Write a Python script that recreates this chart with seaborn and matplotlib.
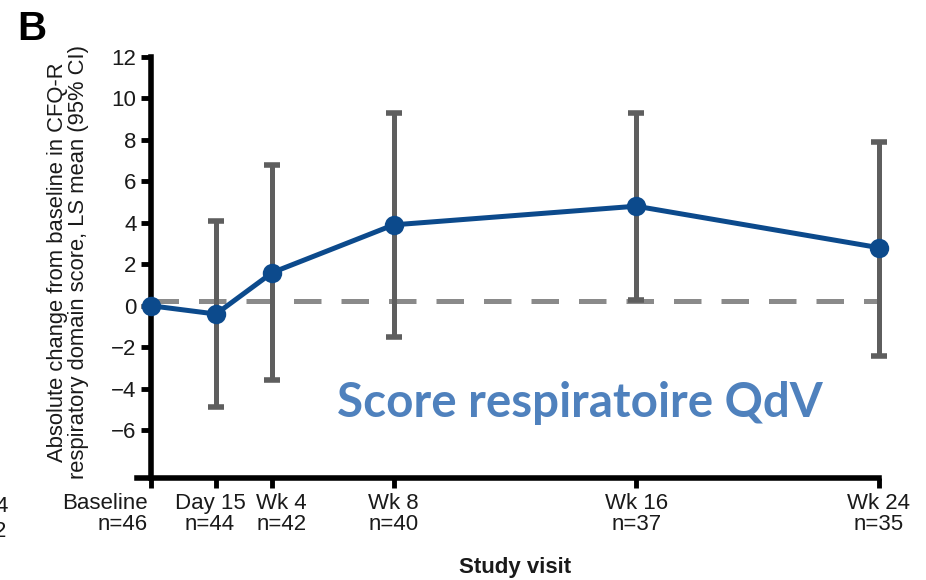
import matplotlib
matplotlib.use("Agg")
import matplotlib.pyplot as plt
import matplotlib.transforms as mtransforms
import numpy as np
import pandas as pd
import seaborn as sns

# Study visits, time since baseline (weeks) and patients analysed
visits = ["Baseline", "Day 15", "Wk 4", "Wk 8", "Wk 16", "Wk 24"]
n_patients = [46, 44, 42, 40, 37, 35]
weeks = [0, 15 / 7, 4, 8, 16, 24]

# Absolute change from baseline in CFQ-R respiratory domain score
ls_mean = [0.0, -0.4, 1.6, 3.9, 4.8, 2.8]
ci_low = [np.nan, -4.9, -3.6, -1.5, 0.3, -2.4]
ci_high = [np.nan, 4.1, 6.8, 9.3, 9.3, 7.9]

y_ticks = [-6, -4, -2, 0, 2, 4, 6, 8, 10, 12]
reference_level = 0.25

df = pd.DataFrame({"week": weeks, "ls_mean": ls_mean,
                   "ci_low": ci_low, "ci_high": ci_high})

sns.set_theme(style="ticks")
plt.rcParams["font.family"] = ["Liberation Sans", "DejaVu Sans"]

LINE_BLUE = "#0c4a8c"
BAR_GREY = "#5e5e5e"
REF_GREY = "#8a8a8a"

fig = plt.figure(figsize=(9.26, 5.80), dpi=100)
ax = fig.add_axes([0.148, 0.176, 0.801, 0.726])

# dashed no-change reference
ax.hlines(reference_level, weeks[0], weeks[-1], colors=REF_GREY,
          linewidth=3.6, linestyles=(0, (5.5, 4)), zorder=1)

# 95% confidence intervals
eb = ax.errorbar(df["week"], df["ls_mean"],
                 yerr=[df["ls_mean"] - df["ci_low"], df["ci_high"] - df["ls_mean"]],
                 fmt="none", ecolor=BAR_GREY, elinewidth=3.6, capsize=5.5,
                 capthick=4, zorder=2)
for part in eb.lines[1:]:
    for artist in part:
        artist.set_clip_on(False)

# LS mean trajectory
sns.lineplot(data=df, x="week", y="ls_mean", ax=ax, color=LINE_BLUE,
             linewidth=3.6, marker="o", markersize=14, markeredgewidth=0,
             zorder=3, clip_on=False)

ax.set_xlim(-0.46, 24)
ax.set_ylim(-8.3, 12)
ax.set_yticks(y_ticks)
ax.set_yticklabels([str(v).replace("-", "\u2212") for v in y_ticks])
ax.set_xticks(weeks)
ax.set_xticklabels([f"{v}\nn={n}" for v, n in zip(visits, n_patients)],
                   linespacing=1.0)
ax.set_xlabel("")
ax.set_ylabel("")

for side in ["top", "right"]:
    ax.spines[side].set_visible(False)
ax.spines["left"].set_position(("data", 0))
for side in ["left", "bottom"]:
    ax.spines[side].set_linewidth(4)
    ax.spines[side].set_color("black")

ax.tick_params(axis="both", direction="out", length=7.5, width=3.5,
               color="black", labelsize=16, labelcolor="#1a1a1a")
ax.tick_params(axis="y", pad=3)
ax.tick_params(axis="x", pad=3.5)

# label alignment under crowded ticks
aligns = ["right", "center", "center", "center", "center", "center"]
shifts_px = [-3, -6, 9, 0, 0, 0]
for lab, ha, dx in zip(ax.get_xticklabels(), aligns, shifts_px):
    lab.set_horizontalalignment(ha)
    lab.set_multialignment(ha)
    lab.set_transform(lab.get_transform() +
                      mtransforms.ScaledTranslation(dx / 100, 0, fig.dpi_scale_trans))

fig.text(68 / 926, 1 - 262 / 580,
         "Absolute change from baseline in CFQ-R\nrespiratory domain score, LS mean (95% CI)",
         rotation=90, ha="center", va="center", multialignment="center",
         fontsize=15.8, linespacing=1.05, color="#1a1a1a")

fig.text(515 / 926, 1 - 568 / 580, "Study visit", ha="center", va="center",
         fontsize=16, fontweight="bold", color="#1a1a1a")

fig.text(17 / 926, 1 - 40 / 580, "B", ha="left", va="baseline",
         fontsize=29, fontweight="bold", color="black")

# partially visible labels from the neighbouring panel
fig.text(8 / 926, 1 - 512 / 580, "4", ha="right", va="baseline",
         fontsize=16, color="#1a1a1a")
fig.text(6 / 926, 1 - 537 / 580, "2", ha="right", va="baseline",
         fontsize=16, color="#1a1a1a")

fig.text(337 / 926, 1 - 417 / 580, "Score respiratoire QdV", ha="left",
         va="baseline", fontsize=34.2, fontweight="bold", color="#4f81bd",
         family=["Lato", "DejaVu Sans"])

fig.savefig("out.png", dpi=100)
